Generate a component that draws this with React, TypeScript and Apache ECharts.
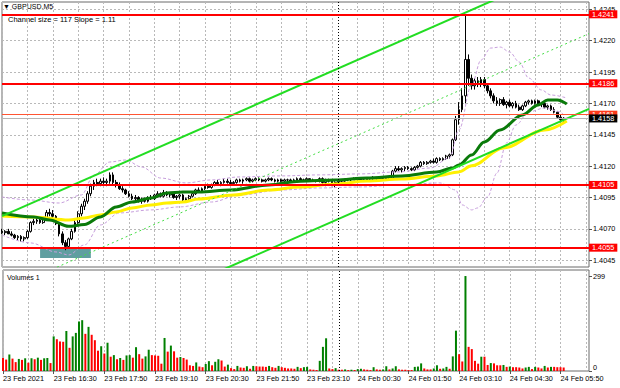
import React, { useEffect, useRef } from "react";
import * as echarts from "echarts";

const FONT = '"Liberation Sans", Arial, sans-serif';
const N_SLOTS = 186;
const SEPARATOR_BAR = 106; // 24 Feb 00:00

const TIME_LABELS = [
  "23 Feb 2021", "23 Feb 16:30", "23 Feb 17:50", "23 Feb 19:10", "23 Feb 20:30", "23 Feb 21:50",
  "23 Feb 23:10", "24 Feb 00:30", "24 Feb 01:50", "24 Feb 03:10", "24 Feb 04:30", "24 Feb 05:50",
];
const PRICE_TICKS = [1.4045, 1.407, 1.4095, 1.412, 1.4145, 1.417, 1.4195, 1.422, 1.4245];
const LEVELS = [1.4241, 1.4186, 1.4105, 1.4055];
const BID = 1.4158;
const ASK = 1.4161;
const VOLUME_TICKS = [0, 299];

// candles in pips above 1.4000: [open, high, low, close]
const CANDLES: number[][] = [
  [68,70,66,67],[67,69,65,68],[68,70,66,66],[66,68,64,65],[65,66,62,63],[63,65,61,64],[64,65,60,62],[62,64,60,63],
  [63,69,62,68],[68,76,67,75],[75,78,73,76],[76,79,74,77],[77,79,74,75],[75,79,74,78],[78,85,77,83],[83,86,80,82],
  [82,85,78,80],[80,81,73,74],[74,75,64,66],[66,68,57,59],[59,61,53,56],[56,63,55,62],[62,70,61,68],[68,77,67,75],
  [75,84,74,82],[82,90,80,88],[88,94,85,92],[92,100,90,98],[98,106,96,104],[104,109,101,107],[107,110,104,106],[106,110,104,108],
  [108,111,105,107],[107,110,104,108],[108,115,106,113],[113,115,105,107],[107,109,103,105],[105,107,101,102],[102,104,99,101],[101,102,97,98],
  [98,100,95,96],[96,98,93,94],[94,97,92,95],[95,96,91,92],[92,95,90,93],[93,95,91,92],[92,96,91,95],[95,97,93,94],
  [94,98,93,97],[97,100,95,98],[98,99,95,96],[96,101,95,99],[99,100,96,97],[97,99,95,98],[98,99,94,95],[95,97,93,96],
  [96,98,94,97],[97,98,92,93],[93,95,91,94],[94,97,93,96],[96,99,95,98],[98,102,97,101],[101,103,99,100],[100,103,99,102],
  [102,105,101,104],[104,106,102,103],[103,106,102,105],[105,108,104,107],[107,109,105,106],[106,108,104,107],[107,110,106,108],[108,110,106,107],
  [107,109,105,106],[106,108,105,107],[107,110,106,109],[109,110,107,108],[108,110,106,109],[109,111,108,110],[110,111,107,108],[108,110,107,109],
  [109,111,108,110],[110,111,108,109],[109,110,107,108],[108,110,107,109],[109,111,108,110],[110,111,108,109],[109,110,107,108],[108,110,107,109],
  [109,110,107,108],[108,110,107,109],[109,110,108,109],[109,110,107,108],[108,110,107,109],[109,111,108,110],[110,111,108,109],[109,110,108,109],
  [109,111,108,110],[110,110,108,109],[109,110,108,108],[108,109,107,108],[108,111,107,110],[110,111,106,107],[107,110,104,109],[109,110,107,108],
  [108,109,104,105],[105,108,103,107],[107,109,106,108],[108,109,107,108],[108,110,107,109],[109,110,108,109],[109,110,108,110],[110,111,109,109],
  [109,111,108,110],[110,111,108,109],[109,110,108,109],[109,110,108,110],[110,111,109,110],[110,112,109,111],[111,111,109,110],[110,111,109,110],
  [110,111,109,110],[110,112,109,111],[111,112,109,110],[110,117,109,116],[116,120,115,118],[118,120,116,117],[117,119,115,118],[118,120,116,119],
  [119,120,117,118],[118,119,116,117],[117,120,116,119],[119,121,118,120],[120,124,119,123],[123,124,121,122],[122,124,121,123],[123,125,122,124],
  [124,126,122,123],[123,127,122,126],[126,127,124,125],[125,127,124,126],[126,129,125,128],[128,130,126,129],[129,142,128,141],[141,160,140,157],
  [157,171,153,165],[165,182,163,176],[176,241,170,205],[205,209,184,190],[190,193,181,184],[184,190,181,188],[188,191,183,185],[185,191,183,189],
  [189,191,182,184],[184,186,178,180],[180,182,174,176],[176,178,170,172],[172,175,168,170],[170,174,168,173],[173,175,168,169],[169,172,166,171],
  [171,173,167,168],[168,171,166,170],[170,172,166,167],[167,169,164,165],[165,169,164,168],[168,172,167,171],[171,173,169,172],[172,173,169,170],
  [170,173,169,172],[172,173,168,169],[169,171,167,170],[170,172,166,167],[167,169,165,168],[168,169,164,165],[165,167,162,163],[163,164,158,159],
  [159,161,155,157],[157,159,155,158],
];

const VOLUMES = [
  41,36,52,39,28,38,35,40,26,40,37,42,35,40,41,25,
  109,100,93,92,126,73,109,120,156,160,117,139,114,97,64,78,
  55,89,45,50,37,41,35,49,50,42,75,53,39,46,67,50,
  49,48,23,104,61,80,62,42,44,41,36,18,16,27,14,12,
  22,31,18,29,37,33,14,20,9,6,16,11,10,15,7,16,
  15,14,14,13,16,12,10,16,12,10,8,8,7,13,9,12,
  13,5,4,3,32,76,103,8,6,9,4,4,5,3,4,3,
  6,7,5,4,3,12,5,4,5,15,5,8,15,5,4,4,
  3,3,13,14,24,8,5,5,8,18,7,8,13,7,46,127,
  53,30,299,76,69,32,23,45,45,19,25,24,18,18,19,13,
  14,12,12,11,8,11,13,6,13,11,8,16,11,13,13,12,
  12,11,
];

// indicator lines: [bar, pips]
const MA_FAST = [
  [0,82.7],[9.8,79.5],[15.1,77.1],[21,72],[26,73.5],[30.9,79.5],[36.2,87.5],[41.3,91.4],[46.6,94.6],[52,98.6],
  [57,99.4],[62.4,99.4],[72,101],[83.5,105],[93.9,108],[105,109],[115.3,110.6],[126,112.2],[136.5,115.3],
  [141.8,118.5],[144.3,120.9],[147.5,128.9],[152.2,139.3],[157,148.8],[163.9,160.8],[169,168.8],[172.1,172.7],
  [175.2,172.7],[177.5,169.5],
];
const MA_SLOW = [
  [0,80.3],[9.8,79.5],[20.5,77.1],[25.5,78.7],[30.9,81.1],[36.2,83.5],[41.3,86.7],[46.6,89.1],[52,90.6],[57,91.4],
  [62.4,93.8],[72.8,97],[83.5,101],[93.9,103.4],[105,105.8],[115.3,108.2],[126,109.8],[136.5,112.2],[144.3,115.4],
  [147.5,120.2],[157.9,134.5],[170.5,148.8],[177.5,156],
];
const BAND_UP = [
  [0,95.4],[8.8,93],[18.3,90.6],[24.6,97],[29.3,112.9],[34,123.3],[38.8,124.9],[43.5,119.3],[49.8,110.5],[57.7,106.6],
  [65.6,109],[75,111.4],[87.6,112.2],[100.2,113],[112.8,113.8],[125.4,115.4],[134.9,118.5],[141.2,126.5],[144.4,148.8],
  [147.5,184.7],[150.6,204.6],[153.8,214.1],[156.9,214.9],[160.1,210.9],[163.3,203],[166.4,190.2],[169.6,180.7],
  [172.7,176.7],[177.5,174.3],
];
const BAND_LO = [
  [0,65.1],[8.8,58.8],[16.7,51.6],[21.4,49.2],[26.2,57.2],[30.9,73.1],[37.2,82.7],[46.6,85.1],[56.1,87.5],[65.6,91.4],
  [75,97],[87.6,101],[100.2,102.6],[112.8,103.4],[125.4,105],[138,106.6],[142.8,101],[145.3,89.1],[147.5,85.1],
  [150,86.7],[152.9,95.4],[156,114.5],[159.2,138.5],[161.7,152.8],[166.4,163.2],[171.1,166.3],[175.9,163.2],[177.5,155.2],
];
const CH_UPPER = [[0, 80.2], [185, 285.6]];
const CH_MID = [[0, 20.2], [185, 225.6]];
const CH_LOWER = [[0, -39.8], [185, 165.6]];
const BOX = { fromBar: 12, toBar: 28, low: 46.7, high: 54.6 };

const toPrice = (p: number) => Math.round((1.4 + p / 10000) * 1e6) / 1e6;
const pts = (arr: number[][]) => arr.map(([i, p]) => [i, toPrice(p)]);

export default function App() {
  const ref = useRef<HTMLDivElement>(null);
  useEffect(() => {
    if (!ref.current) return;
    const chart = echarts.init(ref.current, null, { renderer: "svg" });
    const cats = Array.from({ length: N_SLOTS }, (_, i) => String(i));
    const candleData = CANDLES.map(([o, h, l, c]) => [toPrice(o), toPrice(c), toPrice(l), toPrice(h)]);
    const volData = VOLUMES.map((v, i) => ({
      value: v,
      itemStyle: { color: i > 0 && v > VOLUMES[i - 1] ? "#008000" : "#ff0000" },
    }));
    const gridLine = { show: true, lineStyle: { color: "#b9b9b9", type: [2, 2] as any, width: 1 } };
    const sep = {
      silent: true,
      symbol: ["none", "none"],
      label: { show: false },
      lineStyle: { color: "#000", type: [1, 2] as any, width: 1 },
      data: [{ xAxis: SEPARATOR_BAR }],
    };
    const lvlLabel = (bg: string) => ({
      show: true,
      position: "end",
      distance: 0,
      formatter: (p: any) => Number(p.value).toFixed(4),
      color: "#fff",
      backgroundColor: bg,
      padding: [1, 3, 0, 3],
      fontSize: 7.3,
      fontFamily: FONT,
    });
    const lineS = (data: number[][], color: string, width: number, type: any, smooth: boolean) => ({
      type: "line",
      xAxisIndex: 0,
      yAxisIndex: 0,
      data: pts(data),
      symbol: "none",
      smooth: smooth ? 0.35 : false,
      smoothMonotone: smooth ? "x" : undefined,
      lineStyle: { color, width, type },
      silent: true,
      clip: true,
    });
    const option: any = {
      animation: false,
      backgroundColor: "#ffffff",
      textStyle: { fontFamily: FONT },
      grid: [
        { left: 2, right: 31, top: 2, height: 265, show: true, borderColor: "#6b6b6b", borderWidth: 1 },
        { left: 2, right: 31, top: 270, height: 101, show: true, borderColor: "#6b6b6b", borderWidth: 1 },
      ],
      xAxis: [
        {
          type: "category", gridIndex: 0, data: cats, boundaryGap: false,
          axisLine: { show: false }, axisTick: { show: false }, axisLabel: { show: false },
          splitLine: { ...gridLine, interval: 7 },
        },
        {
          type: "category", gridIndex: 1, data: cats, boundaryGap: false,
          axisLine: { show: false },
          axisTick: { show: true, interval: 15, length: 3, lineStyle: { color: "#555" } },
          axisLabel: {
            show: true, interval: 15, align: "left", margin: 4, fontSize: 7.3, color: "#000", fontFamily: FONT,
            formatter: (_v: string, idx: number) => TIME_LABELS[idx / 16] ?? "",
          },
          splitLine: { ...gridLine, interval: 7 },
        },
      ],
      yAxis: [
        {
          type: "value", gridIndex: 0, position: "right", min: 1.40396, max: 1.42508, scale: true,
          axisLine: { show: false },
          axisTick: { show: true, customValues: PRICE_TICKS, length: 3, lineStyle: { color: "#555" } },
          axisLabel: {
            customValues: PRICE_TICKS, margin: 4, fontSize: 7.3, color: "#000", fontFamily: FONT,
            formatter: (v: number) => v.toFixed(4),
          },
          splitLine: gridLine,
        },
        {
          type: "value", gridIndex: 1, position: "right", min: 0, max: 318,
          axisLine: { show: false },
          axisTick: { show: true, customValues: VOLUME_TICKS, length: 3, lineStyle: { color: "#555" } },
          axisLabel: {
            customValues: VOLUME_TICKS, margin: 4, fontSize: 7.3, color: "#000", fontFamily: FONT,
            verticalAlignMinLabel: "bottom",
          },
          splitLine: { show: false },
        },
      ],
      series: [
        {
          type: "candlestick",
          xAxisIndex: 0, yAxisIndex: 0,
          data: candleData,
          barWidth: 2.2,
          itemStyle: { color: "#ffffff", color0: "#000000", borderColor: "#000000", borderColor0: "#000000", borderWidth: 1 },
          silent: true,
          markArea: {
            silent: true,
            itemStyle: { color: "#5f9ea0", opacity: 1 },
            data: [[
              { xAxis: BOX.fromBar, yAxis: toPrice(BOX.low) },
              { xAxis: BOX.toBar, yAxis: toPrice(BOX.high) },
            ]],
          },
          markLine: sep,
        },
        lineS(BAND_UP, "#c79fdc", 1, [3, 2], true),
        lineS(BAND_LO, "#c79fdc", 1, [3, 2], true),
        lineS(MA_SLOW, "#fff000", 3, "solid", true),
        lineS(MA_FAST, "#0a7a0a", 3, "solid", true),
        lineS(CH_MID, "#44dd44", 1, [2, 3], false),
        lineS(CH_LOWER, "#22dd22", 2, "solid", false),
        {
          ...lineS(CH_UPPER, "#22dd22", 2, "solid", false),
          markLine: {
            silent: true,
            precision: 4,
            symbol: ["none", "none"],
            data: [
              ...LEVELS.map((v) => ({ yAxis: v, lineStyle: { color: "#ff0000", width: 2, type: "solid" }, label: lvlLabel("#ff0000") })),
              { yAxis: ASK, lineStyle: { color: "#ff5533", width: 1, type: "solid" }, label: lvlLabel("#ff3a1a") },
              { yAxis: BID, lineStyle: { color: "#b4b4b4", width: 1, type: "solid" }, label: lvlLabel("#000000") },
            ],
          },
        },
        {
          type: "bar",
          xAxisIndex: 1, yAxisIndex: 1,
          data: volData,
          barWidth: 2,
          silent: true,
          markLine: sep,
        },
      ],
      graphic: [
        { type: "text", left: 3, top: 3, style: { text: "▼ GBPUSD,M5", font: `7px ${FONT}`, fill: "#000" } },
        { type: "text", left: 8, top: 15, style: { text: "Channel size = 117 Slope = 1.11", font: `7.5px ${FONT}`, fill: "#000" } },
        { type: "text", left: 7, top: 274, style: { text: "Volumes 1", font: `7px ${FONT}`, fill: "#000" } },
      ],
    };
    chart.setOption(option);
    return () => chart.dispose();
  }, []);
  return <div ref={ref} style={{ position: "fixed", left: 0, top: 0, width: 620, height: 388 }} />;
}
